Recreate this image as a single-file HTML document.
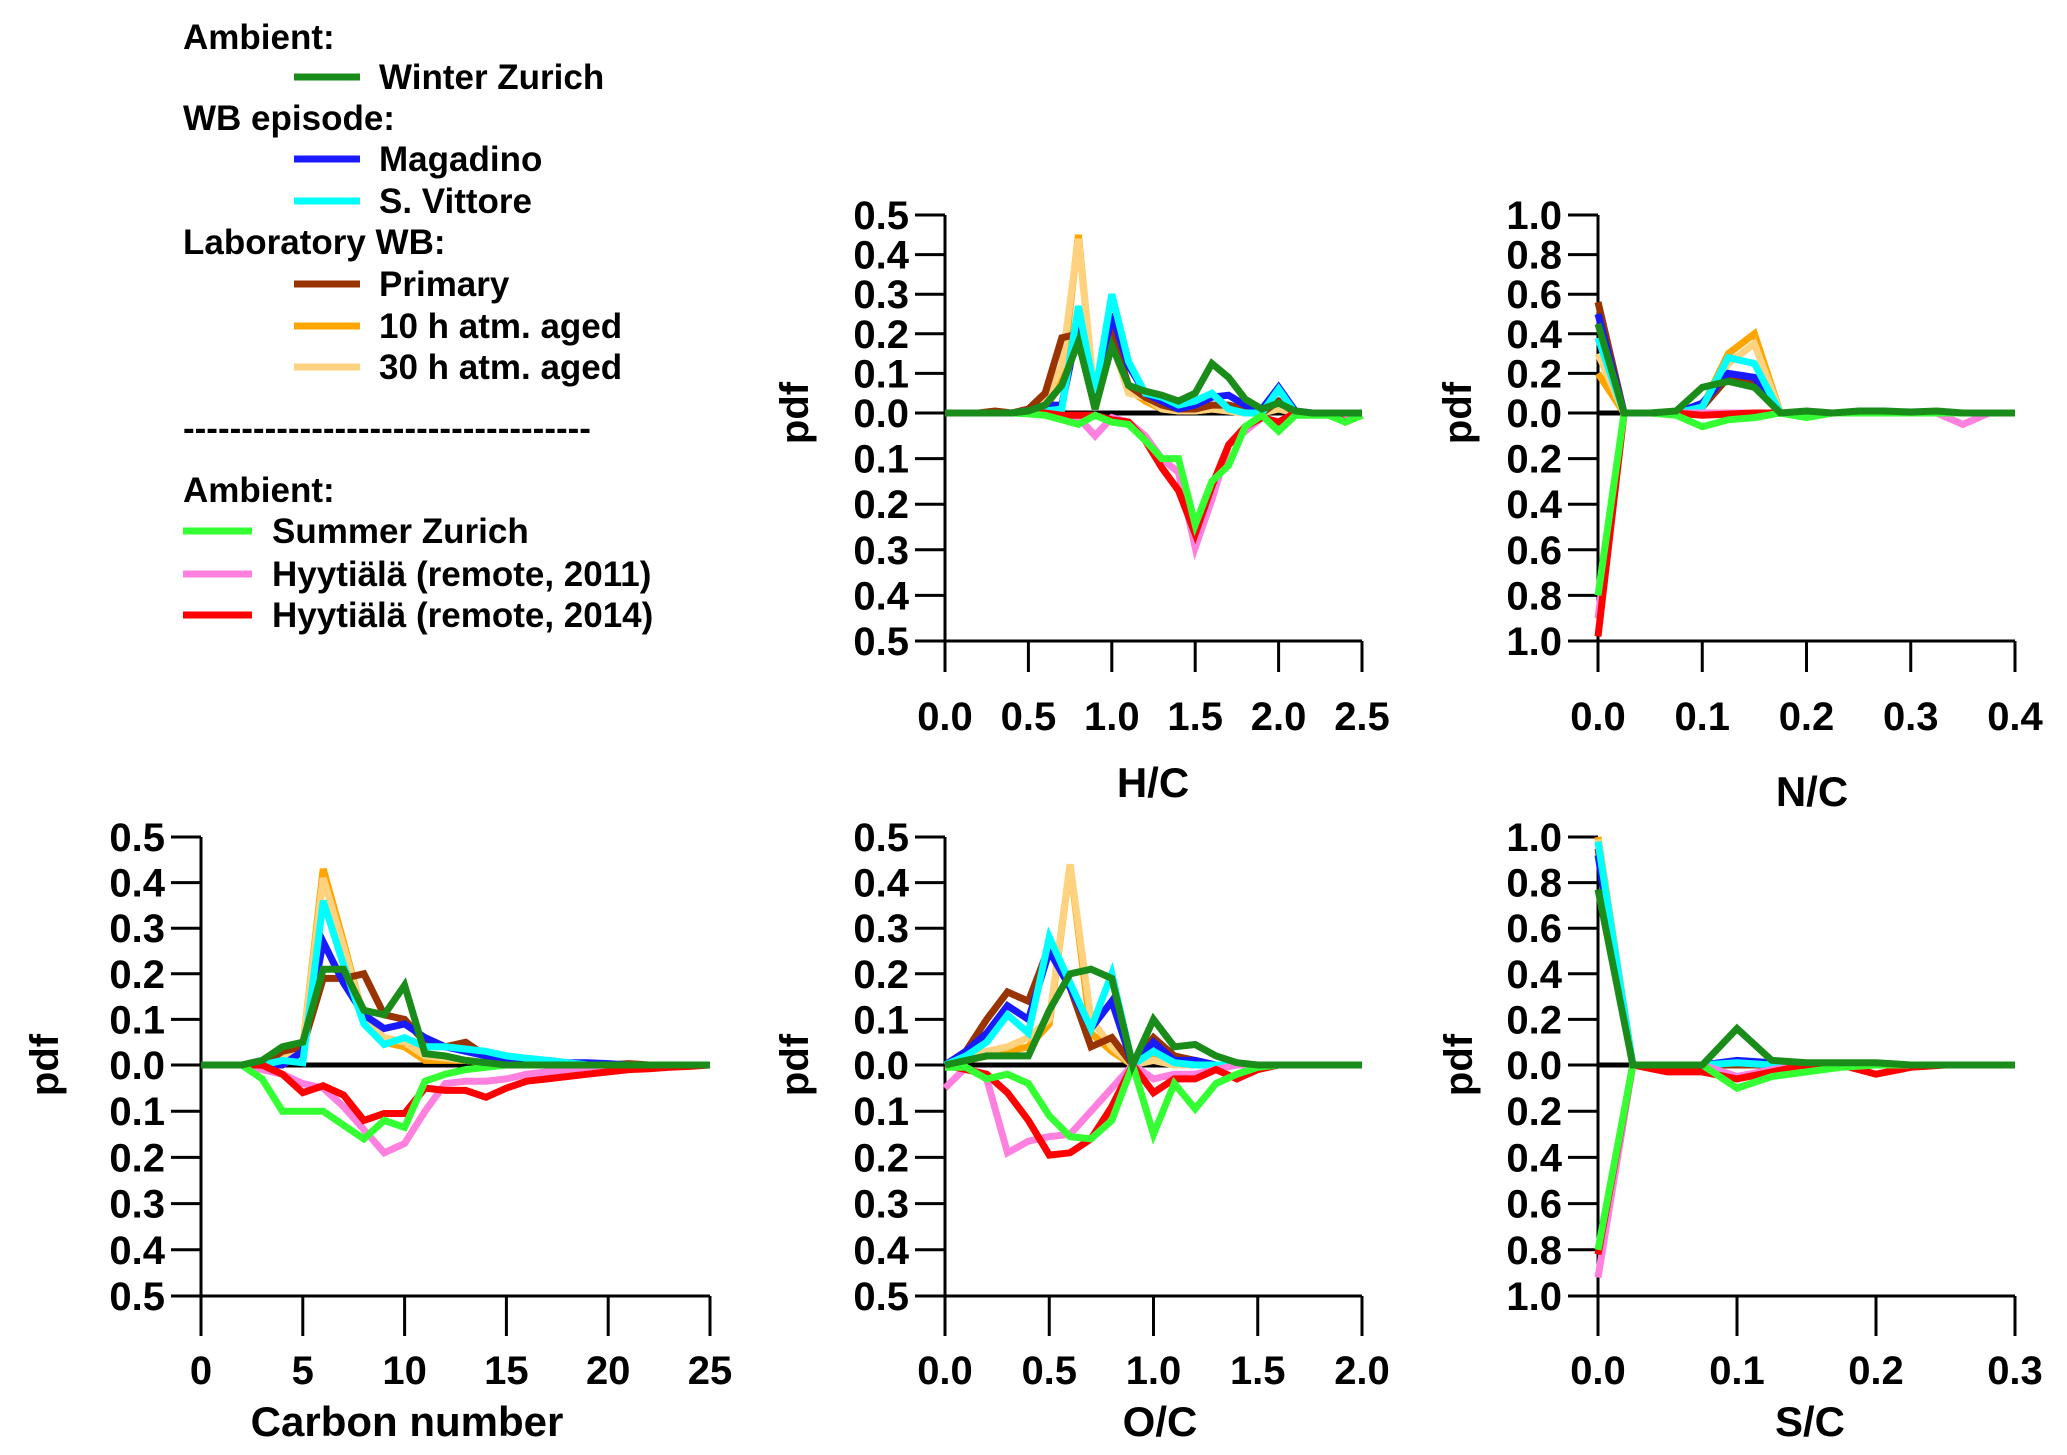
<!DOCTYPE html>
<html><head><meta charset="utf-8">
<style>
html,body{margin:0;padding:0;background:#fff;}
svg{display:block;font-family:"Liberation Sans",Arial,sans-serif;font-weight:bold;}
</style></head>
<body>
<svg id="fig" width="2067" height="1455" viewBox="0 0 2067 1455" xmlns="http://www.w3.org/2000/svg">
<g id="legend" font-size="35" fill="#000">
  <text x="183" y="49">Ambient:</text>
  <line x1="294" y1="77" x2="360" y2="77" stroke="#1a8c1a" stroke-width="7"/>
  <text x="379" y="89">Winter Zurich</text>
  <text x="183" y="130">WB episode:</text>
  <line x1="294" y1="159" x2="360" y2="159" stroke="#1a1aff" stroke-width="7"/>
  <text x="379" y="171">Magadino</text>
  <line x1="294" y1="201" x2="360" y2="201" stroke="#00ffff" stroke-width="7"/>
  <text x="379" y="213">S. Vittore</text>
  <text x="183" y="254">Laboratory WB:</text>
  <line x1="294" y1="284" x2="360" y2="284" stroke="#993300" stroke-width="7"/>
  <text x="379" y="296">Primary</text>
  <line x1="294" y1="326" x2="360" y2="326" stroke="#ffa500" stroke-width="7"/>
  <text x="379" y="338">10 h atm. aged</text>
  <line x1="294" y1="367" x2="360" y2="367" stroke="#ffd27f" stroke-width="7"/>
  <text x="379" y="379">30 h atm. aged</text>
  <text x="183" y="440">-----------------------------------</text>
  <text x="183" y="502">Ambient:</text>
  <line x1="183" y1="531" x2="252" y2="531" stroke="#33ff33" stroke-width="7"/>
  <text x="272" y="543">Summer Zurich</text>
  <line x1="183" y1="574" x2="252" y2="574" stroke="#ff80df" stroke-width="7"/>
  <text x="272" y="586">Hyytiälä (remote, 2011)</text>
  <line x1="183" y1="615" x2="252" y2="615" stroke="#ff0000" stroke-width="7"/>
  <text x="272" y="627">Hyytiälä (remote, 2014)</text>
</g>
</svg>
<script>
// ---------- data ----------
const hcX = [0,0.1,0.2,0.3,0.4,0.5,0.6,0.7,0.8,0.9,1.0,1.1,1.2,1.3,1.4,1.5,1.6,1.7,1.8,1.9,2.0,2.1,2.2,2.3,2.4,2.5];
const hcWinter   = [0,0,0,0,0,0.005,0.02,0.07,0.18,0.01,0.17,0.07,0.055,0.045,0.03,0.05,0.125,0.09,0.035,0.01,0.025,0.005,0,0,0,0];
const hcMagadino = [0,0,0,0,0,0.005,0.02,0.02,0.22,0.03,0.25,0.12,0.05,0.03,0.01,0.02,0.04,0.045,0.02,0.01,0.065,0.005,0,0,0,0];
const hcVittore  = [0,0,0,0,0,0.005,0.005,0.01,0.27,0.05,0.30,0.13,0.05,0.04,0.02,0.03,0.05,0.01,0,0,0.06,0,0,0,0,0];
const hcPrimary  = [0,0,0,0.005,0,0.01,0.05,0.19,0.20,0.01,0.20,0.07,0.04,0.02,0.01,0.01,0.02,0.02,0.01,0,0.03,0,0,0,0,0];
const hc10h      = [0,0,0,0,0,0.005,0.01,0.08,0.45,0.02,0.23,0.06,0.03,0.01,0.005,0.005,0.01,0.005,0,0,0.01,0,0,0,0,0];
const hc30h      = [0,0,0,0,0,0.005,0.03,0.12,0.44,0.03,0.18,0.05,0.04,0.01,0.005,0.005,0.01,0.005,0,0,0.01,0,0,0,0,0];
const hcSummer   = [0,0,0,0,0,0.002,0.005,0.015,0.025,0.005,0.02,0.025,0.06,0.10,0.10,0.245,0.15,0.115,0.03,0.005,0.04,0.005,0.005,0.005,0.02,0.005];
const hcHyy11    = [0,0,0,0,0,0,0,0.005,0.01,0.05,0.01,0.02,0.05,0.10,0.13,0.295,0.19,0.07,0.04,0.01,0.02,0,0,0.005,0.015,0.005];
const hcHyy14    = [0,0,0,0,0,0,0,0.005,0.005,0.005,0.015,0.02,0.06,0.12,0.17,0.265,0.16,0.07,0.03,0.01,0.02,0,0,0,0.02,0.005];

const ncX = [0,0.025,0.05,0.075,0.1,0.125,0.15,0.175,0.2,0.225,0.25,0.275,0.3,0.325,0.35,0.375,0.4];
const ncWinter   = [0.45,0,0,0.01,0.13,0.16,0.13,0,0.01,0,0.01,0.01,0.005,0.01,0,0,0];
const ncMagadino = [0.50,0,0,0,0.05,0.20,0.18,0,0,0,0,0,0,0,0,0,0];
const ncVittore  = [0.38,0,0,0,0.03,0.28,0.25,0,0,0,0,0,0,0,0,0,0];
const ncPrimary  = [0.56,0,0,0,0.03,0.18,0.15,0,0,0,0,0,0,0,0,0,0];
const nc10h      = [0.20,0,0,0,0.03,0.30,0.40,0,0,0,0,0,0,0,0,0,0];
const nc30h      = [0.30,0,0,0,0.03,0.25,0.35,0,0,0,0,0,0,0,0,0,0];
const ncSummer   = [0.80,0,0,0.01,0.06,0.03,0.02,0,0.02,0,0,0,0,0,0,0,0];
const ncHyy11    = [0.90,0,0,0,0,0,0,0,0,0,0,0,0,0,0.05,0,0];
const ncHyy14    = [0.98,0,0,0,0.01,0.005,0,0,0,0,0,0,0,0,0,0,0];

const cnX = [0,1,2,3,4,5,6,7,8,9,10,11,12,13,14,15,16,17,18,19,20,21,22,23,24,25];
const cnWinter   = [0,0,0,0.01,0.04,0.05,0.21,0.21,0.12,0.11,0.175,0.025,0.02,0.01,0.005,0,0,0,0,0,0,0,0,0,0,0];
const cnMagadino = [0,0,0,0,0,0.03,0.27,0.18,0.11,0.08,0.09,0.06,0.04,0.03,0.02,0.01,0.01,0.01,0.005,0.005,0.003,0,0,0,0,0];
const cnVittore  = [0,0,0,0,0.01,0.005,0.36,0.22,0.09,0.045,0.06,0.04,0.04,0.035,0.03,0.02,0.015,0.01,0.005,0,0,0,0,0,0,0];
const cnPrimary  = [0,0,0,0,0.03,0.04,0.19,0.19,0.20,0.11,0.10,0.05,0.04,0.05,0.02,0.01,0.005,0,0,0,0,0.003,0,0,0,0];
const cn10h      = [0,0,0,0,0.02,0.04,0.43,0.27,0.10,0.05,0.04,0.01,0.01,0.01,0.005,0,0,0,0,0,0,0,0,0,0,0];
const cn30h      = [0,0,0,0,0.02,0.04,0.41,0.26,0.10,0.06,0.05,0.02,0.015,0.01,0.005,0,0,0,0,0,0,0,0,0,0,0];
const cnSummer   = [0,0,0,0.03,0.10,0.10,0.10,0.13,0.16,0.12,0.135,0.035,0.02,0.01,0.005,0,0,0,0,0,0,0,0,0,0,0];
const cnHyy11    = [0,0,0,0.01,0.02,0.04,0.05,0.09,0.14,0.19,0.17,0.10,0.04,0.035,0.035,0.03,0.02,0.015,0.01,0.01,0.005,0.003,0,0,0,0];
const cnHyy14    = [0,0,0,0,0.02,0.06,0.045,0.065,0.12,0.105,0.105,0.05,0.055,0.055,0.07,0.05,0.035,0.03,0.025,0.02,0.015,0.01,0.008,0.005,0.003,0];

const ocX = [0,0.1,0.2,0.3,0.4,0.5,0.6,0.7,0.8,0.9,1.0,1.1,1.2,1.3,1.4,1.5,1.6,1.7,1.8,1.9,2.0];
const ocWinter   = [0,0.01,0.02,0.02,0.02,0.12,0.20,0.21,0.19,0,0.10,0.04,0.045,0.02,0.005,0,0,0,0,0,0];
const ocMagadino = [0,0.03,0.07,0.13,0.10,0.25,0.17,0.08,0.14,0,0.05,0.01,0.01,0,0,0,0,0,0,0,0];
const ocVittore  = [0,0.02,0.05,0.11,0.07,0.28,0.18,0.08,0.20,0,0.03,0.005,0,0,0,0,0,0,0,0,0];
const ocPrimary  = [0,0.03,0.10,0.16,0.14,0.26,0.17,0.04,0.06,0,0.06,0.02,0.01,0,0,0,0,0,0,0,0];
const oc10h      = [0,0.01,0.02,0.03,0.04,0.09,0.44,0.07,0.03,0,0.02,0,0,0,0,0,0,0,0,0,0];
const oc30h      = [0,0.02,0.03,0.04,0.06,0.10,0.44,0.10,0.04,0,0.01,0,0,0,0,0,0,0,0,0,0];
const ocSummer   = [0.005,0.005,0.03,0.02,0.04,0.11,0.155,0.16,0.12,0,0.15,0.04,0.095,0.04,0.02,0.005,0,0,0,0,0];
const ocHyy11    = [0.05,0.005,0.03,0.19,0.165,0.155,0.15,0.10,0.05,0,0.03,0.02,0.02,0.01,0,0,0,0,0,0,0];
const ocHyy14    = [0,0.01,0.02,0.06,0.12,0.195,0.19,0.16,0.09,0,0.06,0.03,0.03,0.01,0.03,0.01,0,0,0,0,0];

const scX = [0,0.025,0.05,0.075,0.1,0.125,0.15,0.175,0.2,0.225,0.25,0.275,0.3];
const scWinter   = [0.77,0,0,0,0.16,0.02,0.01,0.01,0.01,0,0,0,0];
const scMagadino = [0.92,0,0,0,0.02,0.01,0,0,0,0,0,0,0];
const scVittore  = [0.98,0,0,0,0.01,0,0,0,0,0,0,0,0];
const scPrimary  = [0.95,0,0,0,0,0,0,0,0,0,0,0,0];
const sc10h      = [1.00,0,0,0,0,0,0,0,0,0,0,0,0];
const sc30h      = [0.99,0,0,0,0,0,0,0,0,0,0,0,0];
const scSummer   = [0.80,0,0,0,0.10,0.05,0.03,0.01,0,0,0,0,0];
const scHyy11    = [0.92,0,0,0,0.05,0.02,0,0,0,0,0,0,0];
const scHyy14    = [0.82,0,0.03,0.03,0.06,0.03,0,0,0.04,0.01,0,0,0];

const yTicks05 = ["0.5","0.4","0.3","0.2","0.1","0.0","0.1","0.2","0.3","0.4","0.5"];
const yTicks10 = ["1.0","0.8","0.6","0.4","0.2","0.0","0.2","0.4","0.6","0.8","1.0"];
const hcTicks = ["0.0","0.5","1.0","1.5","2.0","2.5"];
const ncTicks = ["0.0","0.1","0.2","0.3","0.4"];
const cnTicks = ["0","5","10","15","20","25"];
const ocTicks = ["0.0","0.5","1.0","1.5","2.0"];
const scTicks = ["0.0","0.1","0.2","0.3"];

// ---------- drawing ----------
const NS = "http://www.w3.org/2000/svg";
const svg = document.getElementById('fig');
const COL = {winter:"#1a8c1a",magadino:"#1a1aff",vittore:"#00ffff",primary:"#993300",h10:"#ffa500",h30:"#ffd27f",summer:"#33ff33",hyy11:"#ff80df",hyy14:"#ff0000"};

function mk(tag, attrs, parent){
  const e = document.createElementNS(NS, tag);
  for (const k in attrs) e.setAttribute(k, attrs[k]);
  parent.appendChild(e);
  return e;
}

function panel(p){
  const g = mk('g', {}, svg);
  
  
  const sx = v => p.left + (v - p.xmin) / (p.xmax - p.xmin) * (p.right - p.left);
  const syUp = v => p.zero - v / p.ymax * (p.zero - p.top);
  const syDn = v => p.zero + v / p.ymax * (p.bottom - p.zero);
  const ya = mk('line', {x1:p.left, y1:p.top, x2:p.left, y2:p.bottom+p.tickLen, stroke:'#000','stroke-width':3}, g);
  
  
  const xa = mk('line', {x1:p.left, y1:p.bottom, x2:p.right, y2:p.bottom, stroke:'#000','stroke-width':3}, g);
  
  
  p.yTicks.forEach((lab, i) => {
    const frac = (i - 5) / 5;
    const y = frac <= 0 ? syUp(-frac * p.ymax) : syDn(frac * p.ymax);
    mk('line', {x1:p.left-30, y1:y, x2:p.left, y2:y, stroke:'#000','stroke-width':3}, g);
    const t = mk('text', {x:p.left-36, y:y+14, 'text-anchor':'end','font-size':40}, g);
    t.textContent = lab;
    
    
  });
  p.xTicks.forEach((lab) => {
    const x = sx(parseFloat(lab));
    mk('line', {x1:x, y1:p.bottom, x2:x, y2:p.bottom+p.tickLen, stroke:'#000','stroke-width':3}, g);
    const t = mk('text', {x:x, y:p.xlabY, 'text-anchor':'middle','font-size':40}, g);
    t.textContent = lab;
    
    
  });
  const xt = mk('text', {x:p.xtitleX, y:p.xtitleY, 'text-anchor':'middle','font-size':42}, g);
  xt.textContent = p.xtitle;
  
  
  const yt = mk('text', {x:0, y:0, 'text-anchor':'middle','font-size':40, transform:`translate(${p.ytitleX},${p.zero}) rotate(-90)`}, g);
  yt.textContent = 'pdf';
  
  
  const zl = mk('line', {x1:p.left, y1:p.zero, x2:p.right, y2:p.zero, stroke:'#000','stroke-width':5}, g);
  
  
  p.series.forEach(s => {
    const pts = p.x.map((xv, i) => sx(xv).toFixed(1) + ',' + (s.down ? syDn(s.v[i]) : syUp(s.v[i])).toFixed(1)).join(' ');
    const pl = mk('polyline', {points:pts, fill:'none', stroke:s.c, 'stroke-width':7, 'stroke-linejoin':'miter'}, g);
    
    
  });
}

function seriesSet(w,m,v,pr,h10,h30,su,y11,y14){
  return [
    {n:'10h-aged', c:COL.h10, v:h10},
    {n:'30h-aged', c:COL.h30, v:h30},
    {n:'primary', c:COL.primary, v:pr},
    {n:'magadino', c:COL.magadino, v:m},
    {n:'s-vittore', c:COL.vittore, v:v},
    {n:'hyytiala-2011', c:COL.hyy11, v:y11, down:true},
    {n:'hyytiala-2014', c:COL.hyy14, v:y14, down:true},
    {n:'summer-zurich', c:COL.summer, v:su, down:true},
    {n:'winter-zurich', c:COL.winter, v:w}
  ];
}

panel({name:'hc', left:945, right:1362, xmin:0, xmax:2.5, top:215, zero:413, bottom:641, ymax:0.5, tickLen:31,
  yTicks:yTicks05, xTicks:hcTicks, x:hcX, xlabY:730, xtitle:'H/C', xtitleX:1153, xtitleY:797, ytitleX:808,
  series:seriesSet(hcWinter,hcMagadino,hcVittore,hcPrimary,hc10h,hc30h,hcSummer,hcHyy11,hcHyy14)});
panel({name:'nc', left:1598, right:2015, xmin:0, xmax:0.4, top:215, zero:413, bottom:641, ymax:1.0, tickLen:31,
  yTicks:yTicks10, xTicks:ncTicks, x:ncX, xlabY:730, xtitle:'N/C', xtitleX:1812, xtitleY:806, ytitleX:1471,
  series:seriesSet(ncWinter,ncMagadino,ncVittore,ncPrimary,nc10h,nc30h,ncSummer,ncHyy11,ncHyy14)});
panel({name:'carbon', left:201, right:710, xmin:0, xmax:25, top:837, zero:1065, bottom:1296, ymax:0.5, tickLen:40,
  yTicks:yTicks05, xTicks:cnTicks, x:cnX, xlabY:1384, xtitle:'Carbon number', xtitleX:407, xtitleY:1436, ytitleX:58,
  series:seriesSet(cnWinter,cnMagadino,cnVittore,cnPrimary,cn10h,cn30h,cnSummer,cnHyy11,cnHyy14)});
panel({name:'oc', left:945, right:1362, xmin:0, xmax:2.0, top:837, zero:1065, bottom:1296, ymax:0.5, tickLen:40,
  yTicks:yTicks05, xTicks:ocTicks, x:ocX, xlabY:1384, xtitle:'O/C', xtitleX:1160, xtitleY:1436, ytitleX:808,
  series:seriesSet(ocWinter,ocMagadino,ocVittore,ocPrimary,oc10h,oc30h,ocSummer,ocHyy11,ocHyy14)});
panel({name:'sc', left:1598, right:2015, xmin:0, xmax:0.3, top:837, zero:1065, bottom:1296, ymax:1.0, tickLen:40,
  yTicks:yTicks10, xTicks:scTicks, x:scX, xlabY:1384, xtitle:'S/C', xtitleX:1810, xtitleY:1436, ytitleX:1472,
  series:seriesSet(scWinter,scMagadino,scVittore,scPrimary,sc10h,sc30h,scSummer,scHyy11,scHyy14)});
</script>
</body></html>
